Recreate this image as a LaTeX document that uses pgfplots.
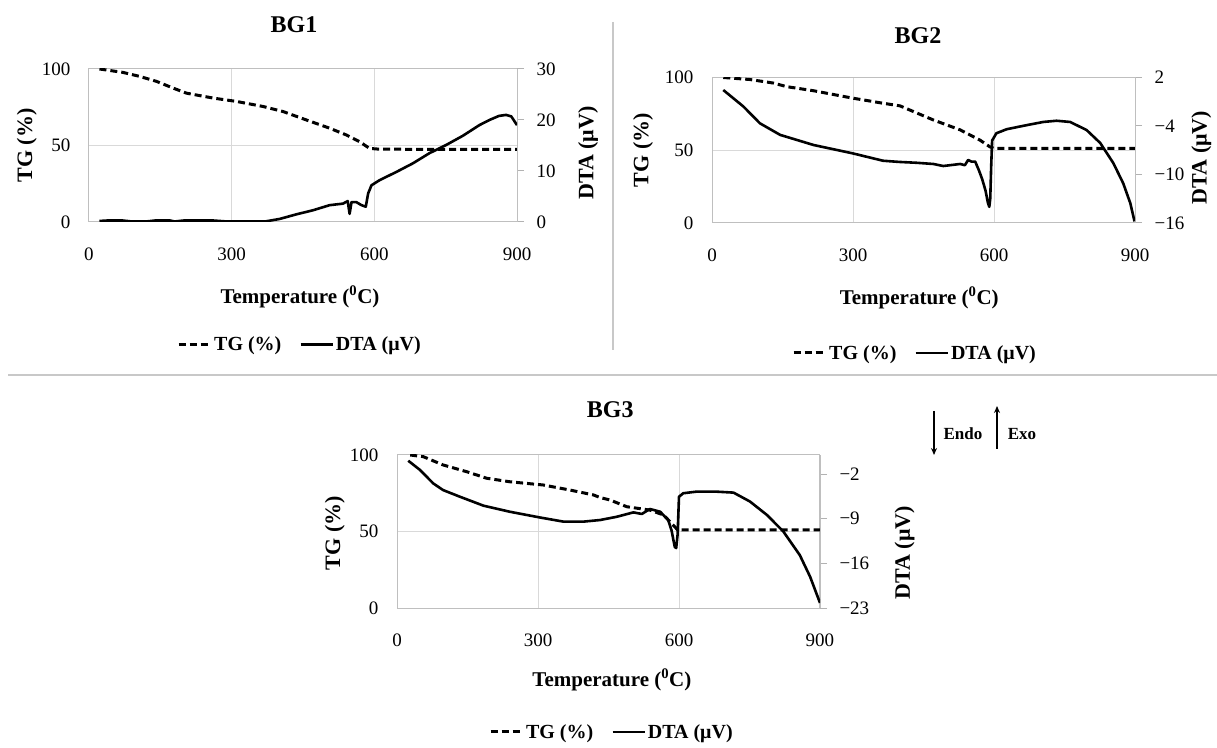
\documentclass[border=0pt]{standalone}
\usepackage{fontspec}
\setmainfont{Liberation Serif}
\usepackage{pgfplots}
\pgfplotsset{compat=1.18}
\usetikzlibrary{arrows.meta}
\definecolor{gridgray}{HTML}{D9D9D9}
\definecolor{sepgray}{HTML}{C8C8C8}
\pgfplotsset{
  tgaxis/.style={
    scale only axis,
    xmin=0, xmax=900, ymin=0, ymax=100,
    xtick={0,300,600,900}, ytick={0,50,100},
    grid=major,
    major grid style={draw=gridgray, line width=1pt},
    axis line style={draw=black!25, line width=1pt},
    major tick length=0pt,
    tick style={draw=none},
    ticklabel style={font=\fontsize{19}{19}\selectfont},
    /pgf/number format/assume math mode=true,
    xticklabel style={yshift=-22pt},
    yticklabel style={xshift=-15pt},
    xlabel style={font=\bfseries\fontsize{21}{21}\selectfont, anchor=center},
    ylabel style={font=\bfseries\fontsize{22}{22}\selectfont, anchor=center},
    title style={font=\bfseries\fontsize{24}{24}\selectfont, anchor=center},
  },
  dtaaxis/.style={
    scale only axis,
    xmin=0, xmax=900,
    axis y line*=right, axis x line=none,
    axis line style={draw=black!25, line width=1pt},
    tick align=outside,
    major tick length=7pt,
    tick style={draw=black!30, line width=1pt},
    ticklabel style={font=\fontsize{19}{19}\selectfont},
    /pgf/number format/assume math mode=true,
    yticklabel style={xshift=9pt},
    ylabel style={font=\bfseries\fontsize{22}{22}\selectfont, anchor=center, rotate=0},
    legend style={draw=none, fill=none, legend columns=2, anchor=center,
      font=\bfseries\fontsize{20}{20}\selectfont,
      /tikz/every even column/.append style={column sep=16pt}},
    legend image code/.code={\draw[#1] (0pt,0pt) -- (32pt,0pt);},
  },
  tgline/.style={black, line width=3pt, dash pattern=on 7pt off 4pt, mark=none},
  dtaline/.style={black, line width=2.6pt, line join=round, mark=none},
}
\begin{document}
\begin{tikzpicture}
\useasboundingbox (0pt,0pt) rectangle (1217pt,747pt);

% separators
\draw[sepgray, line width=1.5pt] (613pt,725pt) -- (613pt,397pt);
\draw[sepgray, line width=2pt] (8pt,372pt) -- (1217pt,372pt);

% ---------------- BG1 ----------------
\begin{axis}[tgaxis, at={(89pt,525pt)}, anchor=south west, width=428pt, height=153pt,
  title={BG1}, title style={at={(axis description cs:0.479,1.25)}},
  xlabel={Temperature (\textsuperscript{0}C)},
  xlabel style={at={(axis description cs:0.493,-0.49)}},
  ylabel={TG (\%)},
  ylabel style={at={(axis description cs:-0.145,0.5)}}]
\addplot[tgline] coordinates {
(22,100) (71,97.8) (106,95.2) (142,91.9) (177,87.5) (205,84.2) (261,81) (310,78.8)
(366,75.5) (408,72.2) (457,66.7) (506,61.3) (541,56.9) (569,52.5) (590,48.1)
(610,47.6) (700,47.5) (800,47.5) (900,47.5)};
\end{axis}
\begin{axis}[dtaaxis, at={(89pt,525pt)}, anchor=south west, width=428pt, height=153pt,
  ymin=0, ymax=30, ytick={0,10,20,30},
  ylabel={DTA (μV)},
  ylabel style={at={(axis description cs:1.166,0.45)}},
  legend style={at={(axis description cs:0.493,-0.80)}}]
\addlegendimage{tgline}
\addlegendentry{TG (\%)}
\addplot[dtaline] coordinates {
(22,0.2) (40,0.3) (70,0.3) (90,0.1) (120,0.1) (140,0.3) (170,0.3) (180,0.1) (200,0.3)
(260,0.3) (290,0.1) (340,0.1) (370,0.1) (401,0.6) (436,1.5) (471,2.3) (506,3.3)
(534,3.6) (544,4.1) (548,1.6) (552,3.9) (562,3.9) (573,3.3) (582,3.0) (587,5.6)
(594,7.2) (611,8.2) (646,9.8) (681,11.5) (716,13.5) (751,15.1) (786,16.9) (821,19)
(842,20) (862,20.8) (877,21) (888,20.7) (900,19)};
\addlegendentry{DTA (μV)}
\end{axis}

% ---------------- BG2 ----------------
\begin{axis}[tgaxis, at={(712pt,524pt)}, anchor=south west, width=423pt, height=145.5pt,
  title={BG2}, title style={at={(axis description cs:0.487,1.247)}},
  xlabel={Temperature (\textsuperscript{0}C)},
  xlabel style={at={(axis description cs:0.49,-0.515)}},
  ylabel={TG (\%)},
  ylabel style={at={(axis description cs:-0.163,0.5)}}]
\addplot[tgline] coordinates {
(24,100) (81,98.6) (130,96.2) (159,93.7) (216,90.9) (301,85.7) (364,82.3) (400,80.5)
(471,70.8) (528,64) (570,57) (591,52.4) (600,51.3) (700,51.3) (800,51.3) (900,51.3)};
\end{axis}
\begin{axis}[dtaaxis, at={(712pt,524pt)}, anchor=south west, width=423pt, height=145.5pt,
  ymin=-16, ymax=2, ytick={-16,-10,-4,2}, yticklabels={−16,−10,−4,2},
  ylabel={DTA (μV)},
  ylabel style={at={(axis description cs:1.157,0.45)}},
  legend style={at={(axis description cs:0.48,-0.893)}}]
\addlegendimage{tgline}
\addlegendentry{TG (\%)}
\addplot[dtaline] coordinates {
(24,0.45) (67,-1.6) (102,-3.67) (145,-5.1) (216,-6.35) (299,-7.38) (364,-8.3)
(400,-8.45) (435,-8.55) (471,-8.7) (492,-8.95) (528,-8.7) (538,-8.85) (545,-8.2)
(552,-8.4) (560,-8.4) (568,-9.5) (575,-10.6) (582,-12) (587,-13.5) (590,-14)
(592,-13) (594,-9) (596,-5.8) (605,-4.9) (627,-4.4) (669,-3.9) (705,-3.5) (733,-3.35)
(762,-3.5) (797,-4.5) (826,-6.1) (854,-8.6) (875,-11.1) (890,-13.55) (899,-15.8)};
\addlegendentry{DTA (μV)}
\end{axis}

% ---------------- BG3 ----------------
\begin{axis}[tgaxis, at={(397pt,139pt)}, anchor=south west, width=423pt, height=153pt,
  title={BG3}, title style={at={(axis description cs:0.504,1.26)}},
  xlabel={Temperature (\textsuperscript{0}C)},
  xlabel style={at={(axis description cs:0.508,-0.47)}},
  ylabel={TG (\%)},
  ylabel style={at={(axis description cs:-0.147,0.49)}}]
\addplot[tgline] coordinates {
(28,100) (56,98.9) (98,93.5) (148,89.1) (191,84.8) (240,82.5) (311,80.4) (368,77.1)
(418,73.9) (432,72.2) (453,70.6) (489,66.2) (538,64) (567,60.8) (584,55.4) (596,51.4)
(610,51) (700,51) (800,51) (900,51)};
\end{axis}
\begin{axis}[dtaaxis, at={(397pt,139pt)}, anchor=south west, width=423pt, height=153pt,
  ymin=-23, ymax=1, ytick={-23,-16,-9,-2}, yticklabels={−23,−16,−9,−2},
  ylabel={DTA (μV)},
  ylabel style={at={(axis description cs:1.2,0.36)}},
  legend style={at={(axis description cs:0.508,-0.81)}}]
\addlegendimage{tgline}
\addlegendentry{TG (\%)}
\addplot[dtaline] coordinates {
(24,0.1) (49,-1.35) (77,-3.45) (98,-4.5) (134,-5.55) (184,-6.95) (240,-7.9) (304,-8.8)
(354,-9.45) (397,-9.45) (432,-9.2) (467,-8.7) (503,-8.0) (521,-8.25) (538,-7.47)
(560,-7.9) (577,-9.2) (584,-10.8) (591,-13.4) (594,-13.6) (597,-11.5) (600,-5.55)
(609,-5.0) (637,-4.75) (680,-4.75) (716,-4.9) (751,-6.3) (787,-8.4) (822,-11.0)
(857,-14.7) (879,-18.1) (900,-22.2)};
\addlegendentry{DTA (μV)}
\end{axis}

% Endo / Exo annotation
\draw[-{Stealth[length=7pt,width=6pt]}, line width=1.2pt] (934pt,336pt) -- (934pt,292pt);
\node[font=\bfseries\fontsize{17}{17}\selectfont] at (963pt,313pt) {Endo};
\draw[-{Stealth[length=7pt,width=6pt]}, line width=1.2pt] (997pt,298pt) -- (997pt,341pt);
\node[font=\bfseries\fontsize{17}{17}\selectfont] at (1022pt,313pt) {Exo};
\end{tikzpicture}
\end{document}
